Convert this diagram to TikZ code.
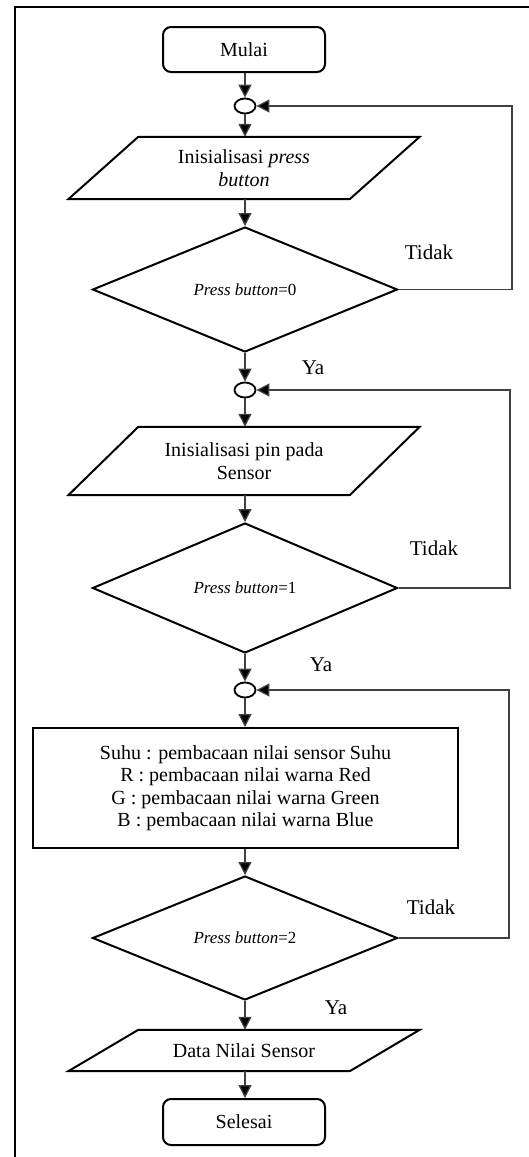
\documentclass[tikz,border=0pt]{standalone}
\usepackage{fontspec}
\setmainfont{Liberation Serif}
\usetikzlibrary{shapes.geometric,arrows.meta,calc}
\begin{document}
\begin{tikzpicture}[x=1pt,y=-1pt,
  every node/.style={font=\fontsize{20}{22.5}\selectfont, inner sep=0pt, align=center},
  term/.style={draw, line width=2pt, rounded corners=8pt, minimum width=162pt, minimum height=45pt},
  junc/.style={draw, line width=1.8pt, ellipse, minimum width=21pt, minimum height=15pt},
  parabox/.style={minimum width=281pt},
  parline/.style={line width=2pt, line join=miter},
  decide/.style={draw, line width=2pt, diamond, minimum width=305pt, font=\fontsize{17}{20}\selectfont},
  procbox/.style={draw, line width=2pt, minimum width=425pt, minimum height=120pt},
  conn/.style={line width=1.3pt, draw=black!75, -{Triangle[length=13pt,width=13pt,fill=black]}},
  lbl/.style={font=\fontsize{21}{24}\selectfont}
]
\useasboundingbox (0,0) rectangle (528,1157);
% frame
\draw[line width=1.8pt] (15,1158) -- (15,7) -- (529,7);

\node[term] (start) at (244,49.5) {Mulai};
\node[junc] (j1) at (245,106) {};
\node[parabox, minimum height=62pt] (p1) at (244,168) {Inisialisasi \textit{press}\\\textit{button}};
\draw[parline] ($(p1.north west)+(35,0)$) -- ($(p1.north east)+(35,0)$) -- ($(p1.south east)+(-35,0)$) -- ($(p1.south west)+(-35,0)$) -- cycle;
\node[decide, minimum height=125pt] (d1) at (245,289.5) {\textit{Press button}=0};
\node[junc] (j2) at (245,390) {};
\node[parabox, minimum height=68pt] (p2) at (244,461) {Inisialisasi pin pada\\Sensor};
\draw[parline] ($(p2.north west)+(35,0)$) -- ($(p2.north east)+(35,0)$) -- ($(p2.south east)+(-35,0)$) -- ($(p2.south west)+(-35,0)$) -- cycle;
\node[decide, minimum height=130pt] (d2) at (245,588) {\textit{Press button}=1};
\node[junc] (j3) at (245,690) {};
\node[procbox] (r) at (245.5,788) {Suhu : pembacaan nilai sensor Suhu\\R : pembacaan nilai warna Red\\G : pembacaan nilai warna Green\\B : pembacaan nilai warna Blue};
\node[decide, minimum height=124pt] (d3) at (245,938) {\textit{Press button}=2};
\node[parabox, minimum height=41pt] (p3) at (244,1050.5) {Data Nilai Sensor};
\draw[parline] ($(p3.north west)+(35,0)$) -- ($(p3.north east)+(35,0)$) -- ($(p3.south east)+(-35,0)$) -- ($(p3.south west)+(-35,0)$) -- cycle;
\node[term, minimum height=46pt] (end) at (244,1122) {Selesai};

% connectors
\draw[conn] (start.south -| j1.north) -- (j1.north);
\draw[conn] (j1.south) -- (j1.south |- p1.north);
\draw[conn] (j1.south |- p1.south) -- (d1.north);
\draw[conn] (d1.south) -- (j2.north);
\draw[conn] (j2.south) -- (j2.south |- p2.north);
\draw[conn] (j2.south |- p2.south) -- (d2.north);
\draw[conn] (d2.south) -- (j3.north);
\draw[conn] (j3.south) -- (j3.south |- r.north);
\draw[conn] (j3.south |- r.south) -- (d3.north);
\draw[conn] (d3.south) -- (d3.south |- p3.north);
\draw[conn] (d3.south |- p3.south) -- (d3.south |- end.north);

% loops
\coordinate (c1) at (512,289.5);
\coordinate (c2) at (510,588);
\coordinate (c3) at (509,938);
\draw[conn] (d1.east) -- (c1) -- (c1 |- j1.east) -- (j1.east);
\draw[conn] (d2.east) -- (c2) -- (c2 |- j2.east) -- (j2.east);
\draw[conn] (d3.east) -- (c3) -- (c3 |- j3.east) -- (j3.east);

% labels
\node[lbl] (t1) at (429,252) {Tidak};
\node[lbl] (t2) at (434,548) {Tidak};
\node[lbl] (t3) at (431,907) {Tidak};
\node[lbl] (y1) at (313,368) {Ya};
\node[lbl] (y2) at (321,665) {Ya};
\node[lbl] (y3) at (336,1008) {Ya};
\end{tikzpicture}
\end{document}
